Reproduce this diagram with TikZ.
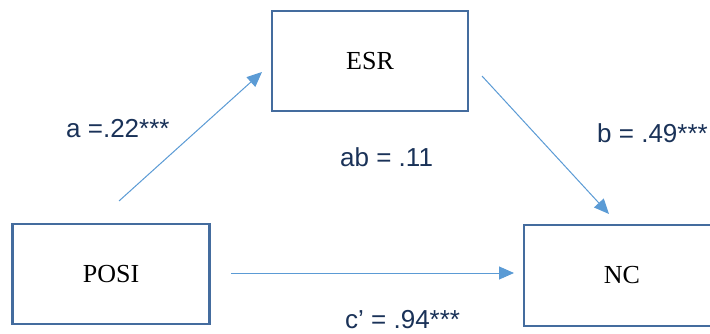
\documentclass[tikz,border=0pt]{standalone}
\usepackage{fontspec}
\setmainfont{Liberation Serif}
\newfontfamily\labelfont{Liberation Sans}
\usetikzlibrary{arrows.meta}
\definecolor{boxblue}{RGB}{68,108,158}
\definecolor{arrowblue}{RGB}{91,155,213}
\definecolor{labelnavy}{RGB}{26,50,88}
\tikzset{
  varbox/.style={draw=boxblue, line width=2.8pt, fill=white, minimum width=196pt, minimum height=100pt, inner sep=0pt, font=\fontsize{26}{30}\selectfont},
  patharrow/.style={draw=arrowblue, line width=1pt, -{Triangle[length=15pt,width=13pt]}},
  coef/.style={text=labelnavy, inner sep=0pt, anchor=base west, font=\labelfont\fontsize{26}{30}\selectfont}
}
\begin{document}
\begin{tikzpicture}[x=1pt,y=-1pt]
\clip (0,0) rectangle (710,334);
\fill[white] (0,0) rectangle (710,334);
\node[varbox] (ESR) at (370,61) {ESR};
\node[varbox, minimum width=197pt] (POSI) at (111,274) {POSI};
\node[varbox, minimum height=101pt] (NC) at (622,275.5) {NC};
\coordinate (aStart) at (119,201);
\coordinate (aEnd) at (262,72);
\coordinate (bStart) at (482,76);
\coordinate (bEnd) at (609,214);
\coordinate (cStart) at (231,273);
\coordinate (cEnd) at (514,273);
\draw[patharrow] (aStart) -- (aEnd);
\draw[patharrow] (bStart) -- (bEnd);
\draw[patharrow] (cStart) -- (cEnd);
\node[coef] (la) at (66,138) {a =.22***};
\node[coef] (lab) at (340,167) {ab = .11};
\node[coef] (lb) at (597,143) {b = .49***};
\node[coef] (lc) at (345,328) {c’ = .94***};
\end{tikzpicture}
\end{document}
